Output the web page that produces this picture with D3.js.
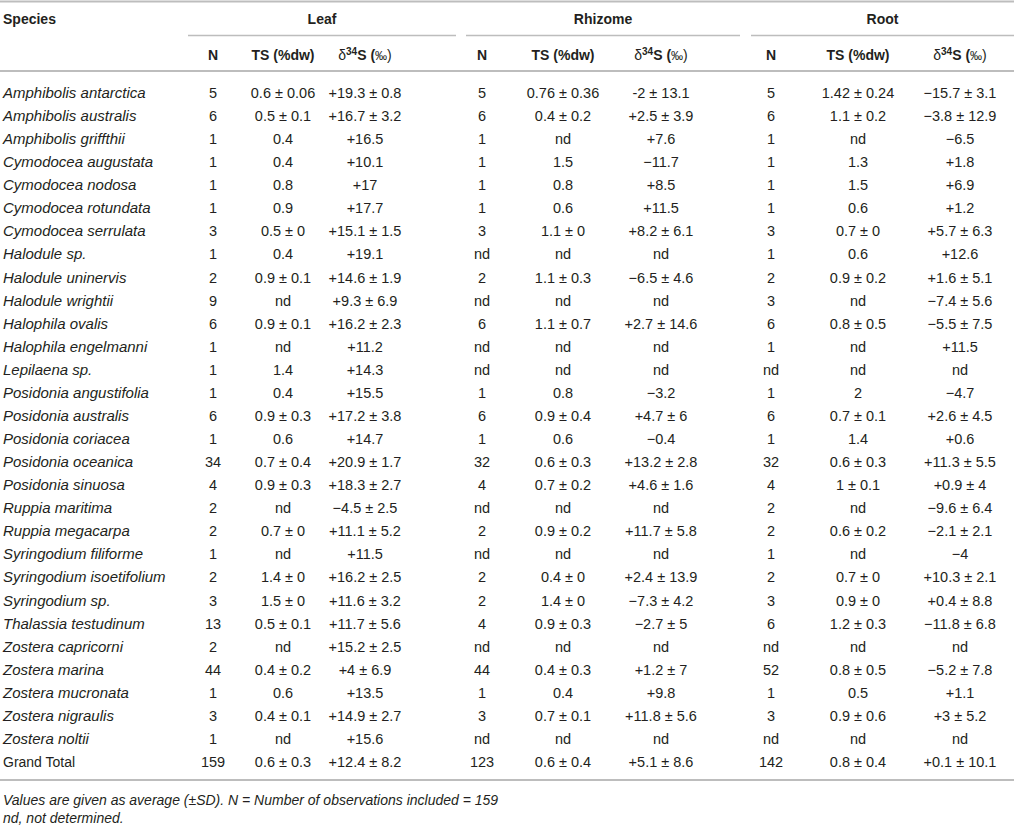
<!DOCTYPE html>
<html>
<head>
<meta charset="utf-8">
<script src="https://cdn.jsdelivr.net/npm/d3@7"></script>
<style>
  html, body { margin: 0; padding: 0; background: #fff; }
  svg text { font-family: "Liberation Sans", Arial, sans-serif; fill: #231f20; }
</style>
</head>
<body>
<svg id="table" width="1014" height="827"></svg>
<script>
// ---- table data ----
const species = [
  'Amphibolis antarctica', 'Amphibolis australis', 'Amphibolis griffthii', 'Cymodocea augustata',
  'Cymodocea nodosa', 'Cymodocea rotundata', 'Cymodocea serrulata', 'Halodule sp.',
  'Halodule uninervis', 'Halodule wrightii', 'Halophila ovalis', 'Halophila engelmanni',
  'Lepilaena sp.', 'Posidonia angustifolia', 'Posidonia australis', 'Posidonia coriacea',
  'Posidonia oceanica', 'Posidonia sinuosa', 'Ruppia maritima', 'Ruppia megacarpa',
  'Syringodium filiforme', 'Syringodium isoetifolium', 'Syringodium sp.', 'Thalassia testudinum',
  'Zostera capricorni', 'Zostera marina', 'Zostera mucronata', 'Zostera nigraulis',
  'Zostera noltii', 'Grand Total'
];

const leafN = ['5','6','1','1','1','1','3','1','2','9','6','1','1','1','6','1','34','4','2','2','1','2','3','13','2','44','1','3','1','159'];
const leafTS = ['0.6 ± 0.06','0.5 ± 0.1','0.4','0.4','0.8','0.9','0.5 ± 0','0.4','0.9 ± 0.1','nd','0.9 ± 0.1','nd','1.4','0.4','0.9 ± 0.3','0.6','0.7 ± 0.4','0.9 ± 0.3','nd','0.7 ± 0','nd','1.4 ± 0','1.5 ± 0','0.5 ± 0.1','nd','0.4 ± 0.2','0.6','0.4 ± 0.1','nd','0.6 ± 0.3'];
const leafD = ['+19.3 ± 0.8','+16.7 ± 3.2','+16.5','+10.1','+17','+17.7','+15.1 ± 1.5','+19.1','+14.6 ± 1.9','+9.3 ± 6.9','+16.2 ± 2.3','+11.2','+14.3','+15.5','+17.2 ± 3.8','+14.7','+20.9 ± 1.7','+18.3 ± 2.7','−4.5 ± 2.5','+11.1 ± 5.2','+11.5','+16.2 ± 2.5','+11.6 ± 3.2','+11.7 ± 5.6','+15.2 ± 2.5','+4 ± 6.9','+13.5','+14.9 ± 2.7','+15.6','+12.4 ± 8.2'];

const rhizN = ['5','6','1','1','1','1','3','nd','2','nd','6','nd','nd','1','6','1','32','4','nd','2','nd','2','2','4','nd','44','1','3','nd','123'];
const rhizTS = ['0.76 ± 0.36','0.4 ± 0.2','nd','1.5','0.8','0.6','1.1 ± 0','nd','1.1 ± 0.3','nd','1.1 ± 0.7','nd','nd','0.8','0.9 ± 0.4','0.6','0.6 ± 0.3','0.7 ± 0.2','nd','0.9 ± 0.2','nd','0.4 ± 0','1.4 ± 0','0.9 ± 0.3','nd','0.4 ± 0.3','0.4','0.7 ± 0.1','nd','0.6 ± 0.4'];
const rhizD = ['-2 ± 13.1','+2.5 ± 3.9','+7.6','−11.7','+8.5','+11.5','+8.2 ± 6.1','nd','−6.5 ± 4.6','nd','+2.7 ± 14.6','nd','nd','−3.2','+4.7 ± 6','−0.4','+13.2 ± 2.8','+4.6 ± 1.6','nd','+11.7 ± 5.8','nd','+2.4 ± 13.9','−7.3 ± 4.2','−2.7 ± 5','nd','+1.2 ± 7','+9.8','+11.8 ± 5.6','nd','+5.1 ± 8.6'];

const rootN = ['5','6','1','1','1','1','3','1','2','3','6','1','nd','1','6','1','32','4','2','2','1','2','3','6','nd','52','1','3','nd','142'];
const rootTS = ['1.42 ± 0.24','1.1 ± 0.2','nd','1.3','1.5','0.6','0.7 ± 0','0.6','0.9 ± 0.2','nd','0.8 ± 0.5','nd','nd','2','0.7 ± 0.1','1.4','0.6 ± 0.3','1 ± 0.1','nd','0.6 ± 0.2','nd','0.7 ± 0','0.9 ± 0','1.2 ± 0.3','nd','0.8 ± 0.5','0.5','0.9 ± 0.6','nd','0.8 ± 0.4'];
const rootD = ['−15.7 ± 3.1','−3.8 ± 12.9','−6.5','+1.8','+6.9','+1.2','+5.7 ± 6.3','+12.6','+1.6 ± 5.1','−7.4 ± 5.6','−5.5 ± 7.5','+11.5','nd','−4.7','+2.6 ± 4.5','+0.6','+11.3 ± 5.5','+0.9 ± 4','−9.6 ± 6.4','−2.1 ± 2.1','−4','+10.3 ± 2.1','+0.4 ± 8.8','−11.8 ± 6.8','nd','−5.2 ± 7.8','+1.1','+3 ± 5.2','nd','+0.1 ± 10.1'];

const groups = ['Leaf', 'Rhizome', 'Root'];
const subHeads = ['N', 'TS (%dw)', 'δ34S'];
const footnotes = [
  'Values are given as average (±SD). N = Number of observations included = 159',
  'nd, not determined.'
];

// ---- layout ----
const svg = d3.select('#table');
const W = 1014;
const fontSize = 14;
const valueSize = 14.5;
const ruleColor = '#bdbdbd';

const columns = [
  { key: 'leafN', values: leafN }, { key: 'leafTS', values: leafTS }, { key: 'leafD', values: leafD },
  { key: 'rhizN', values: rhizN }, { key: 'rhizTS', values: rhizTS }, { key: 'rhizD', values: rhizD },
  { key: 'rootN', values: rootN }, { key: 'rootTS', values: rootTS }, { key: 'rootD', values: rootD }
];

const x = d3.scaleOrdinal()
  .domain(columns.map(c => c.key))
  .range([213, 283, 365, 482, 563, 661, 771, 858, 960]);

const y = d3.scalePoint()
  .domain(d3.range(species.length))
  .range([93, 762]);

const groupSpan = d3.scaleOrdinal()
  .domain(groups)
  .range([[188, 456], [466, 740], [751, W]]);

// rules
const rule = (x1, x2, yy, sw) => svg.append('line')
  .attr('x1', x1).attr('x2', x2).attr('y1', yy).attr('y2', yy)
  .attr('stroke', ruleColor).attr('stroke-width', sw);

rule(0, W, 1.5, 2);
groups.forEach(g => {
  const [a, b] = groupSpan(g);
  rule(a, b, 35.5, 1.5);
});
rule(0, W, 71, 2);
rule(0, W, 780, 2);

// header row 1
svg.append('text')
  .attr('x', 3).attr('y', 24)
  .attr('font-size', fontSize).attr('font-weight', 'bold')
  .text('Species');

svg.selectAll('text.group')
  .data(groups)
  .enter().append('text')
  .attr('class', 'group')
  .attr('x', d => (groupSpan(d)[0] + groupSpan(d)[1]) / 2)
  .attr('y', 24)
  .attr('text-anchor', 'middle')
  .attr('font-size', fontSize).attr('font-weight', 'bold')
  .text(d => d);

// header row 2
columns.forEach((c, i) => {
  const head = subHeads[i % 3];
  const t = svg.append('text')
    .attr('x', x(c.key)).attr('y', 60)
    .attr('text-anchor', 'middle')
    .attr('font-size', fontSize).attr('font-weight', 'bold');
  if (head === 'δ34S') {
    t.append('tspan').attr('font-weight', 'normal').text('δ');
    t.append('tspan').attr('font-size', 10).attr('dy', -5).text('34');
    t.append('tspan').attr('dy', 5).text('S (');
    t.append('tspan').attr('font-weight', 'normal').attr('font-size', 12).text('‰');
    t.append('tspan').attr('font-weight', 'normal').text(')');
  } else {
    t.text(head);
  }
});

// species column
svg.selectAll('text.species')
  .data(species)
  .enter().append('text')
  .attr('class', 'species')
  .attr('x', 3)
  .attr('y', (d, i) => y(i) + 5)
  .attr('font-size', d => d === 'Grand Total' ? fontSize : 15)
  .attr('font-style', d => d === 'Grand Total' ? 'normal' : 'italic')
  .text(d => d);

// value cells
columns.forEach(c => {
  svg.selectAll(null)
    .data(c.values)
    .enter().append('text')
    .attr('x', x(c.key))
    .attr('y', (d, i) => y(i) + 5)
    .attr('text-anchor', 'middle')
    .attr('font-size', valueSize)
    .text(d => d);
});

// footnotes
svg.selectAll('text.foot')
  .data(footnotes)
  .enter().append('text')
  .attr('class', 'foot')
  .attr('x', 3)
  .attr('y', (d, i) => 805 + i * 18)
  .attr('font-size', 14)
  .attr('font-style', 'italic')
  .text(d => d);
</script>
</body>
</html>
